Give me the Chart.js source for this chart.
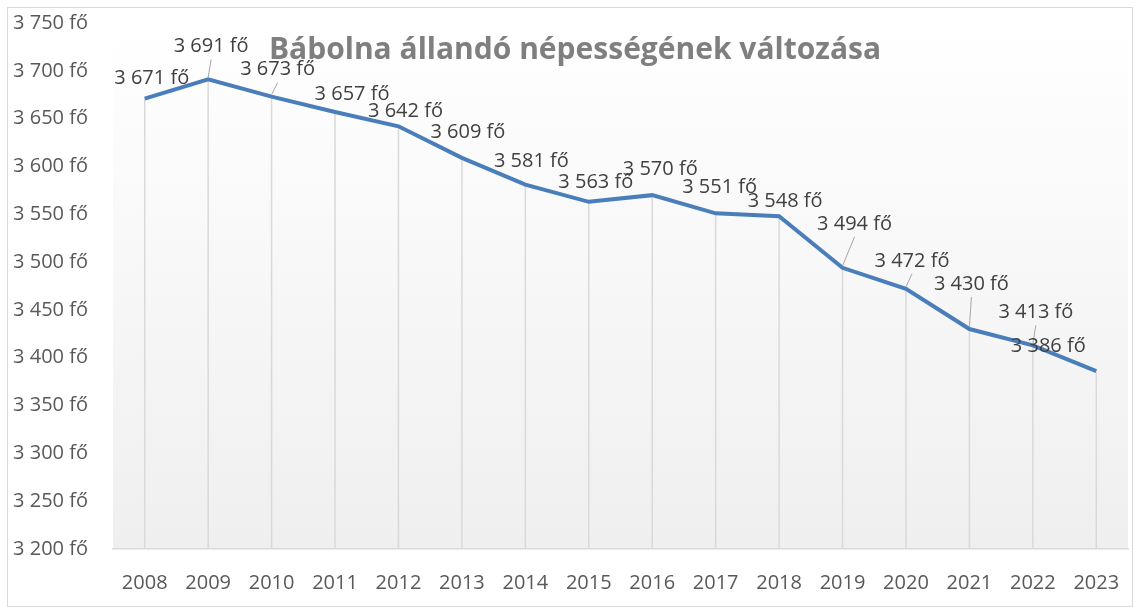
<!DOCTYPE html>
<html>
<head>
<meta charset="utf-8">
<script src="https://cdn.jsdelivr.net/npm/chart.js@4"></script>
<style>
  html, body { margin: 0; padding: 0; background: #fff; }
  #wrap { width: 1135px; height: 607px; position: relative; }
</style>
</head>
<body>
<div id="wrap"><canvas id="nepesseg"></canvas></div>
<script>
var years = ['2008', '2009', '2010', '2011', '2012', '2013', '2014', '2015',
             '2016', '2017', '2018', '2019', '2020', '2021', '2022', '2023'];
var population = [3671, 3691, 3673, 3657, 3642, 3609, 3581, 3563,
                  3570, 3551, 3548, 3494, 3472, 3430, 3413, 3386];
var yMin = 3200;
var yMax = 3750;
var yStep = 50;
var chartTitle = 'Bábolna állandó népességének változása';

// where each data label sits relative to its point, and whether it gets a leader line
var labelShift = [[7, -20], [3, -33], [6, -27], [17, -18], [7, -15], [6, -26], [6, -23], [7, -20],
                  [8, -26], [4, -26], [6, -15], [12, -44], [6, -28], [2, -45], [3, -33], [-48, -25]];
var hasLeader = [false, true, true, false, false, false, false, false,
                 false, false, false, true, true, true, true, false];

var FONT = '"Open Sans", "DejaVu Sans", sans-serif';

function fo(v) {
  return String(v).replace(/\B(?=(\d{3})+(?!\d))/g, ' ') + ' fő';
}

const excelLook = {
  id: 'excelLook',
  beforeDraw(chart) {
    const ctx = chart.ctx, a = chart.chartArea;
    ctx.save();
    ctx.fillStyle = '#fff';
    ctx.fillRect(0, 0, chart.width, chart.height);
    var g = ctx.createLinearGradient(0, a.top, 0, a.bottom);
    g.addColorStop(0, '#ffffff');
    g.addColorStop(1, '#efefef');
    ctx.fillStyle = g;
    ctx.fillRect(a.left, a.top, a.right - a.left, a.bottom - a.top);
    ctx.strokeStyle = '#d9d9d9';
    ctx.lineWidth = 1;
    ctx.strokeRect(7.5, 7.5, chart.width - 10, chart.height - 8);
    ctx.restore();
  },
  beforeDatasetsDraw(chart) {
    // drop lines from each point to the axis
    const ctx = chart.ctx, a = chart.chartArea;
    const pts = chart.getDatasetMeta(0).data;
    ctx.save();
    ctx.strokeStyle = '#d9d9d9';
    ctx.lineWidth = 1.5;
    pts.forEach(function (p) {
      ctx.beginPath();
      ctx.moveTo(p.x, p.y);
      ctx.lineTo(p.x, a.bottom);
      ctx.stroke();
    });
    ctx.restore();
  },
  afterDatasetsDraw(chart) {
    const ctx = chart.ctx;
    const pts = chart.getDatasetMeta(0).data;
    ctx.save();
    ctx.strokeStyle = '#a6a6a6';
    ctx.lineWidth = 1;
    pts.forEach(function (p, i) {
      if (!hasLeader[i]) return;
      ctx.beginPath();
      ctx.moveTo(p.x + labelShift[i][0], p.y + labelShift[i][1] + 13);
      ctx.lineTo(p.x, p.y - 2);
      ctx.stroke();
    });
    ctx.font = '20px ' + FONT;
    ctx.fillStyle = '#404040';
    ctx.textAlign = 'center';
    ctx.textBaseline = 'middle';
    pts.forEach(function (p, i) {
      ctx.fillText(fo(population[i]), p.x + labelShift[i][0], p.y + labelShift[i][1]);
    });
    // title sits over the plot, as in the original
    ctx.font = 'bold 30px ' + FONT;
    ctx.fillStyle = '#7f7f7f';
    ctx.fillText(chartTitle, 575, 50);
    ctx.restore();
  }
};

const data = {
  labels: years,
  datasets: [{
    label: 'Népesség',
    data: population,
    borderColor: '#4a7ebb',
    backgroundColor: '#4a7ebb',
    borderWidth: 4,
    pointRadius: 0,
    tension: 0,
    fill: false
  }]
};

const config = {
  type: 'line',
  data: data,
  options: {
    responsive: true,
    maintainAspectRatio: false,
    animation: false,
    layout: { padding: { left: 8, right: 7, top: 0, bottom: 8 } },
    scales: {
      x: {
        offset: true,
        grid: { display: false },
        border: { display: true, color: '#d9d9d9', width: 1.5 },
        ticks: { color: '#595959', font: { family: FONT, size: 20 }, padding: 14, maxRotation: 0 },
        afterFit(s) { s.height = 50; }
      },
      y: {
        min: yMin,
        max: yMax,
        grid: { display: false },
        border: { display: false },
        ticks: {
          stepSize: yStep,
          color: '#595959',
          font: { family: FONT, size: 20, lineHeight: 0.6 },
          padding: 17,
          callback: function (v) { return fo(v); }
        },
        afterFit(s) { s.width = 105; }
      }
    },
    plugins: {
      legend: { display: false },
      title: { display: false },
      tooltip: { enabled: false }
    }
  },
  plugins: [excelLook]
};

const myChart = new Chart(document.getElementById('nepesseg'), config);
</script>
</body>
</html>
